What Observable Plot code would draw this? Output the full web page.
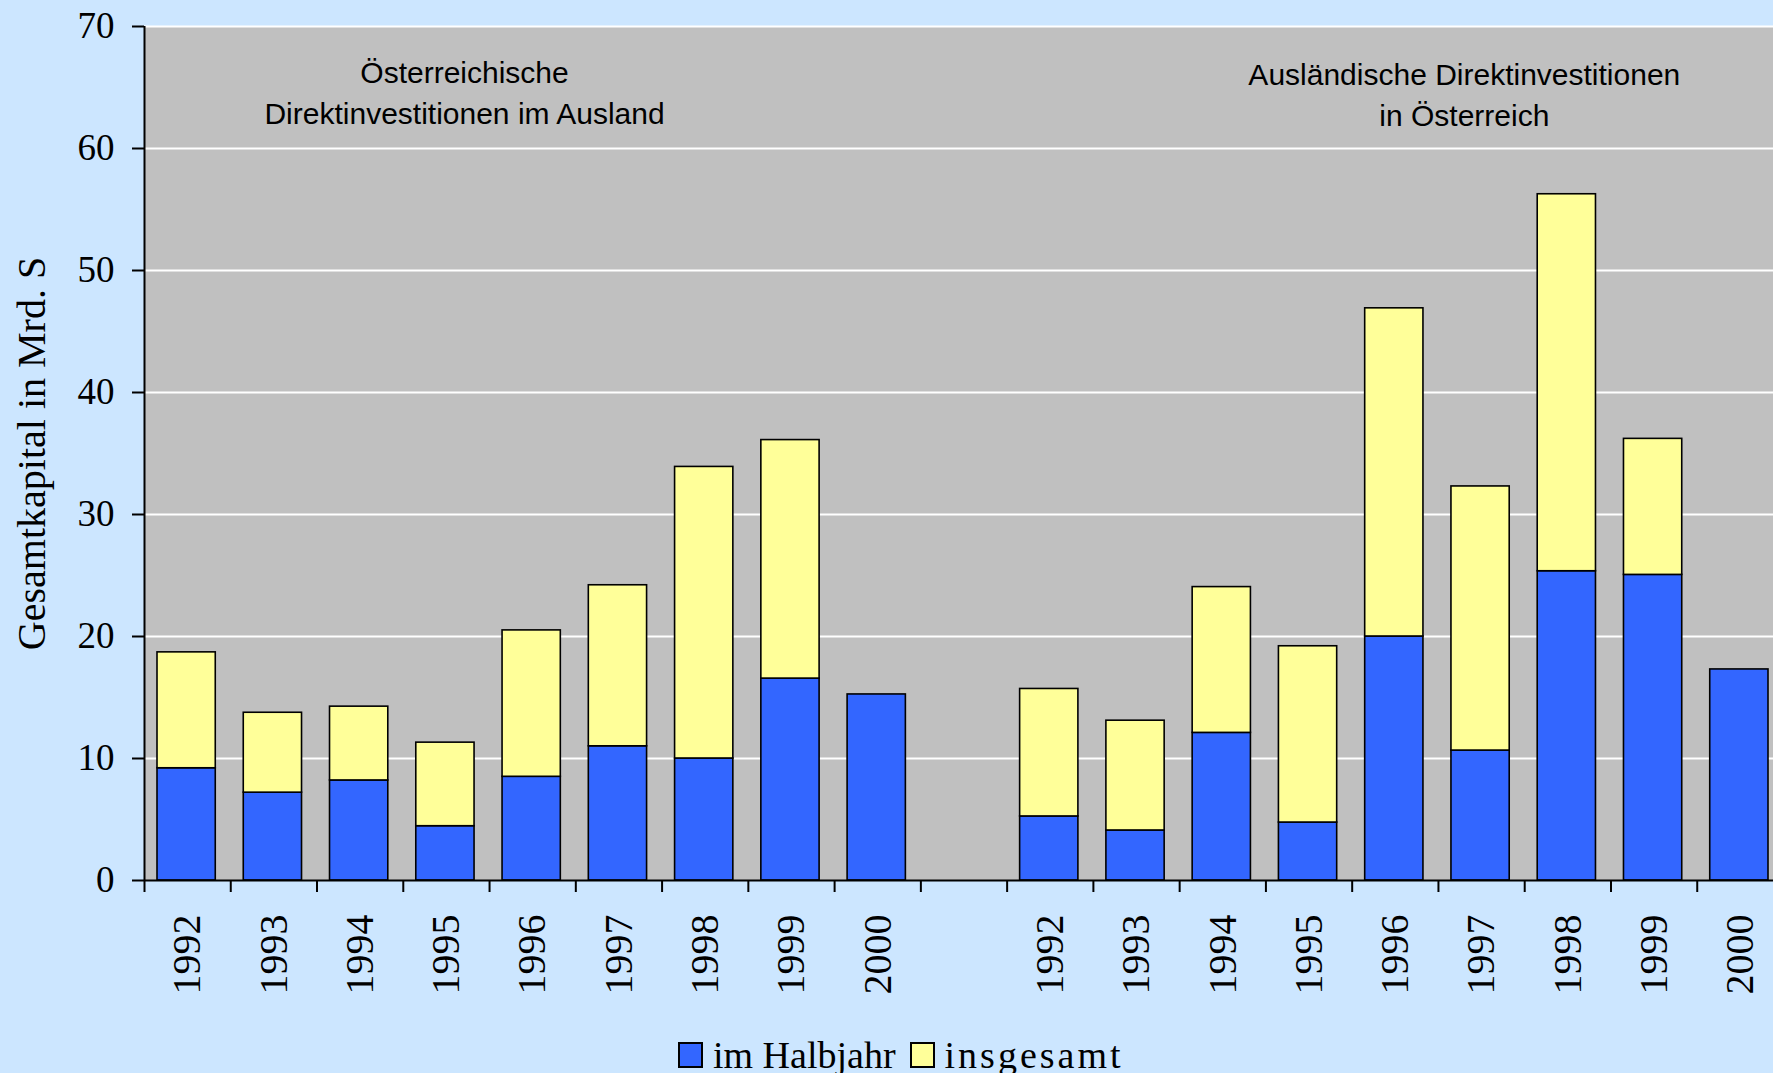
<!DOCTYPE html>
<html>
<head>
<meta charset="utf-8">
<script src="https://cdn.jsdelivr.net/npm/d3@7"></script>
<script src="https://cdn.jsdelivr.net/npm/@observablehq/plot@0.6"></script>
<style>
  html, body { margin: 0; padding: 0; background: #CCE6FF; overflow: hidden; width: 1773px; height: 1073px; }
  #chart { position: absolute; left: 0; top: 0; }
  #legend { position: absolute; left: 678px; top: 1035px; height: 40px; line-height: 40px; display: flex; align-items: center;
            font-family: "Liberation Serif", serif; font-size: 38px; color: #000; }
  .sw { width: 21px; height: 22px; border: 2px solid #000; display: inline-block; }
  .lab { margin-left: 10px; margin-right: 14px; }
</style>
</head>
<body>
<div id="chart"></div>
<div id="legend">
  <span class="sw" style="background:#3366FF"></span><span class="lab">im Halbjahr</span>
  <span class="sw" style="background:#FFFF99"></span><span class="lab" style="letter-spacing:3px">insgesamt</span>
</div>
<script>
// ---- data ----
const years = ["1992", "1993", "1994", "1995", "1996", "1997", "1998", "1999", "2000"];
const groups = ["Österreichische\nDirektinvestitionen im Ausland", "Ausländische Direktinvestitionen\nin Österreich"];
// blue segment: im Halbjahr
const outwardHalbjahr = [9.2, 7.2, 8.2, 4.45, 8.5, 11.0, 10.0, 16.55, 15.25];
// bar top (yellow segment reaches this): insgesamt
const outwardTotal = [18.7, 13.75, 14.25, 11.3, 20.5, 24.2, 33.9, 36.1, null];
const inwardHalbjahr = [5.25, 4.1, 12.1, 4.75, 20.0, 10.65, 25.35, 25.05, 17.3];
const inwardTotal = [15.7, 13.1, 24.05, 19.2, 46.9, 32.3, 56.25, 36.2, null];
const yTicks = [0, 10, 20, 30, 40, 50, 60, 70];
const yTitle = "Gesamtkapital in Mrd. S";
const seriesNames = ["im Halbjahr", "insgesamt"];
// annotation anchors in data units (x: category slot, y: value)
const annotX = [3.71, 15.3];
const annotY = [64.8, 64.6];

// ---- table ----
const rows = [];
[[outwardHalbjahr, outwardTotal], [inwardHalbjahr, inwardTotal]].forEach(([h, t], g) => {
  years.forEach((year, i) => rows.push({pos: g * (years.length + 1) + i, year, halb: h[i], total: t[i]}));
});
const slots = rows.length + 1; // includes the empty gap slot
const annotations = groups.map((text, i) => ({text, x: annotX[i], y: annotY[i]}));

const W = 1783, H = 1020;
const chart = Plot.plot({
  width: W,
  height: H,
  marginLeft: 144,
  marginRight: 0,
  marginTop: 26,
  marginBottom: 140,
  style: {fontFamily: "Liberation Serif, serif", fontSize: "37px", background: "transparent", color: "#000", maxWidth: "none"},
  x: {domain: [0, slots]},
  y: {domain: [0, 70]},
  marks: [
    Plot.frame({fill: "#C0C0C0", stroke: null}),
    Plot.ruleY(yTicks.filter(d => d > 0), {stroke: "white", strokeWidth: 2}),
    Plot.rect(rows, {x1: "pos", x2: d => d.pos + 1, y1: 0, y2: "halb", fill: "#3366FF",
      stroke: "#000", strokeWidth: 1.6, insetLeft: 13, insetRight: 15}),
    Plot.rect(rows.filter(d => d.total != null), {x1: "pos", x2: d => d.pos + 1, y1: "halb", y2: "total",
      fill: "#FFFF99", stroke: "#000", strokeWidth: 1.6, insetLeft: 13, insetRight: 15}),
    Plot.ruleX([0], {stroke: "#000", strokeWidth: 2}),
    Plot.ruleY([0], {stroke: "#000", strokeWidth: 2}),
    Plot.axisY(yTicks, {tickSize: 12, tickPadding: 18, strokeWidth: 2, label: null, fontSize: 37}),
    Plot.axisX(d3.range(0, slots + 1), {tickSize: 12, strokeWidth: 2, tickFormat: () => "", label: null}),
    Plot.text(rows, {x: d => d.pos + 0.5, text: "year", frameAnchor: "bottom", dy: 34, rotate: -90,
      textAnchor: "end", lineAnchor: "middle", fontSize: 40, ariaLabel: "years"}),
    Plot.text([yTitle], {frameAnchor: "left", dx: -112, rotate: -90, textAnchor: "middle", lineAnchor: "middle",
      fontSize: 40}),
    Plot.text(annotations, {x: "x", y: "y", text: "text", fontFamily: "Liberation Sans, sans-serif",
      fontSize: 30, lineHeight: 1.38, lineAnchor: "middle"})
  ]
});
d3.select(chart).selectAll('g[aria-label="years"] text').style("letter-spacing", "1px");
document.getElementById("chart").appendChild(chart);
</script>
</body>
</html>
